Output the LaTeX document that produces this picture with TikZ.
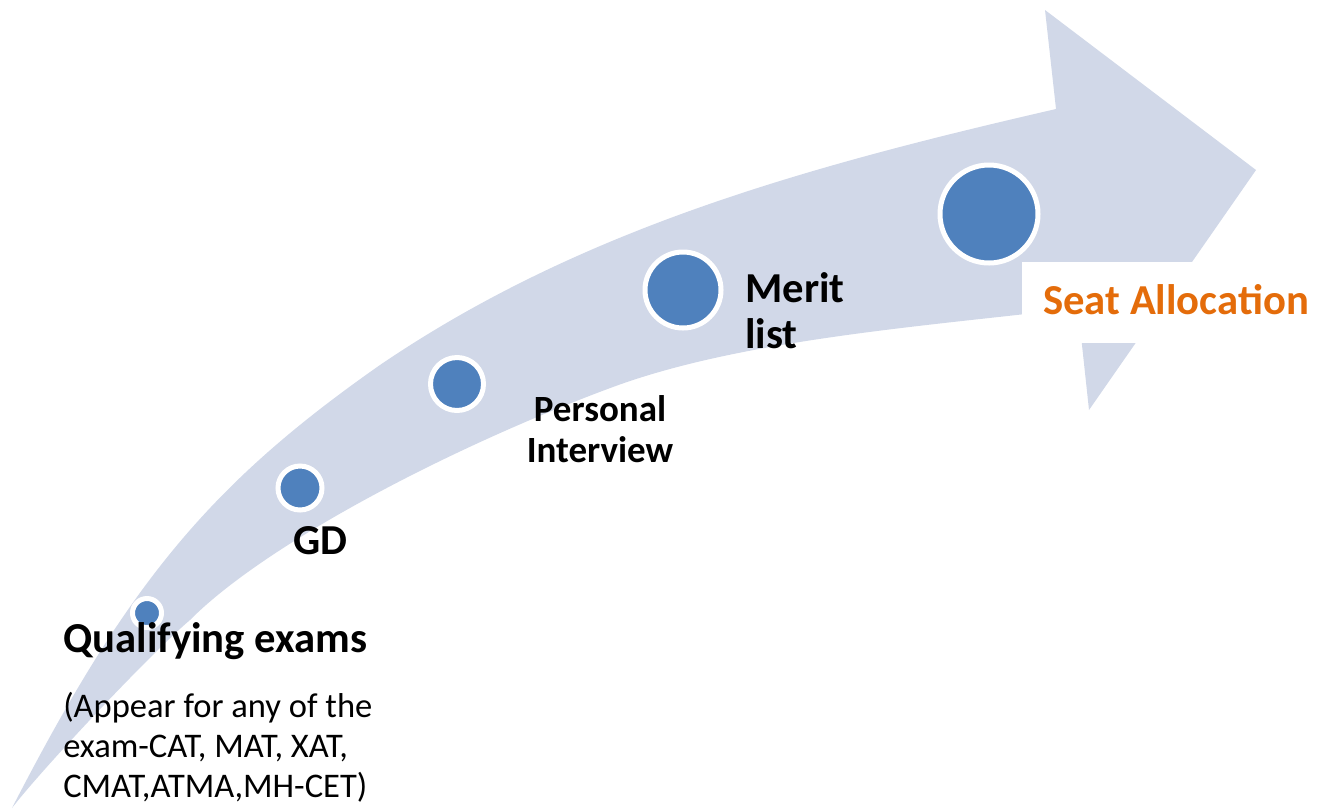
\documentclass[tikz,border=0pt]{standalone}
\usepackage{fontspec}
\setmainfont{Carlito}
\definecolor{arrowfill}{HTML}{D1D8E8}
\definecolor{dotblue}{HTML}{4F81BD}
\definecolor{seatorange}{HTML}{E46C0A}
\begin{document}
\begin{tikzpicture}[x=0.75pt,y=-0.75pt,
  dot/.style={circle, fill=dotblue, draw=white, line width=3.75pt, inner sep=0pt},
  bigbold/.style={font=\fontsize{32}{34.5}\selectfont\bfseries, inner sep=0pt},
  midbold/.style={font=\fontsize{27.75}{30.75}\selectfont\bfseries, inner sep=0pt},
  bodytext/.style={font=\fontsize{25.9}{30}\selectfont, inner sep=0pt}]
\useasboundingbox (0,0) rectangle (1327,808);
% curved arrow
\fill[arrowfill]
  (12,808) .. controls (127.5,583.6) and (210,484) .. (380,365)
  .. controls (580,229) and (806,166.5) .. (1056,109)
  -- (1045,10) -- (1256,170) -- (1089,410) -- (1078,308)
  .. controls (928,326) and (743,339) .. (613,387)
  .. controls (453,446) and (266,543.5) .. (190,620)
  .. controls (150,654) and (42,769) .. (12,808)
  -- cycle;
% white label box
\fill[white] (1022,262) rectangle (1320,343);
% dots
\node[dot, minimum size=21.75pt] (c1) at (147,613) {};
\node[dot, minimum size=33pt] (c2) at (300,488) {};
\node[dot, minimum size=39.75pt] (c3) at (457,384) {};
\node[dot, minimum size=57pt] (c4) at (683,290) {};
\node[dot, minimum size=73.5pt] (c5) at (989,214) {};
% labels
\node[bigbold, anchor=base west] (qual) at (63,652) {Qualifying exams};
\node[bodytext, anchor=base west, align=left] (exams) at (63,797) {(Appear for any of the\\exam-CAT, MAT, XAT,\\CMAT,ATMA,MH-CET)};
\node[bigbold, anchor=base west] (gd) at (293,554) {GD};
\node[midbold, anchor=base, align=center] (pi) at (600,462.7) {Personal\\Interview};
\node[bigbold, anchor=base west, align=left] (merit) at (745,348) {Merit\\list};
\node[bigbold, anchor=base west, text=seatorange] (seat) at (1043,314) {Seat Allocation};
\end{tikzpicture}
\end{document}
